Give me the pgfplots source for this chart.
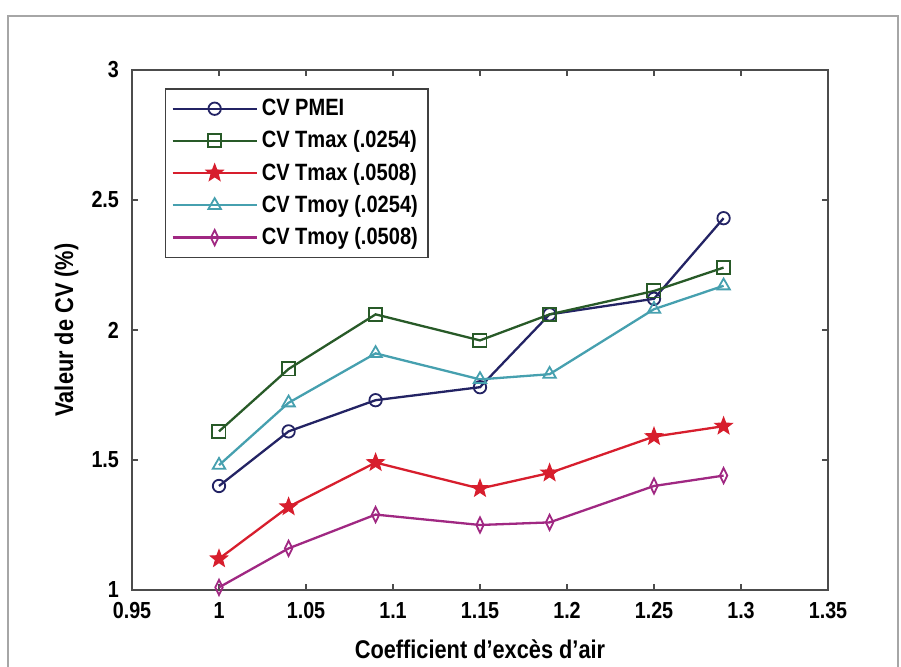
\documentclass[border=0pt]{standalone}
\usepackage{fontspec}
\setmainfont{Liberation Sans}[FakeStretch=0.85]
\usepackage{pgfplots}
\pgfplotsset{compat=1.18}
\definecolor{cPMEI}{RGB}{35,35,100}
\definecolor{cTmaxA}{RGB}{40,90,40}
\definecolor{cTmaxB}{RGB}{215,30,45}
\definecolor{cTmoyA}{RGB}{70,160,175}
\definecolor{cTmoyB}{RGB}{160,40,130}
\pgfdeclareplotmark{pentagram}{%
  \pgfpathmoveto{\pgfpointpolar{90}{\pgfplotmarksize}}%
  \pgfpathlineto{\pgfpointpolar{126}{0.42\pgfplotmarksize}}%
  \pgfpathlineto{\pgfpointpolar{162}{\pgfplotmarksize}}%
  \pgfpathlineto{\pgfpointpolar{198}{0.42\pgfplotmarksize}}%
  \pgfpathlineto{\pgfpointpolar{234}{\pgfplotmarksize}}%
  \pgfpathlineto{\pgfpointpolar{270}{0.42\pgfplotmarksize}}%
  \pgfpathlineto{\pgfpointpolar{306}{\pgfplotmarksize}}%
  \pgfpathlineto{\pgfpointpolar{342}{0.42\pgfplotmarksize}}%
  \pgfpathlineto{\pgfpointpolar{18}{\pgfplotmarksize}}%
  \pgfpathlineto{\pgfpointpolar{54}{0.42\pgfplotmarksize}}%
  \pgfpathclose
  \pgfusepathqfillstroke
}
\begin{document}
\begin{tikzpicture}
\useasboundingbox (0,0) rectangle (450.5pt,333.5pt);
\draw[black!35, line width=1.2pt] (4pt,0) -- (4pt,325.5pt) -- (449pt,325.5pt) -- (449pt,0);
\begin{axis}[
  at={(66pt,38.5pt)}, anchor=south west,
  width=348pt, height=260pt, scale only axis,
  xmin=0.95, xmax=1.35, ymin=1, ymax=3,
  xtick={0.95,1,1.05,1.1,1.15,1.2,1.25,1.3,1.35},
  ytick={1,1.5,2,2.5,3},
  /pgf/number format/assume math mode=true,
  tick align=inside, major tick length=3pt,
  axis line style={black!70, line width=0.9pt},
  tick style={black!70, line width=0.8pt},
  tick label style={font=\fontsize{11.6}{13}\selectfont\bfseries},
  xticklabel style={yshift=-2.6pt},
  yticklabel style={xshift=-3pt},
  label style={font=\fontsize{12.8}{14}\selectfont\bfseries},
  xlabel={Coefficient d'excès d'air},
  ylabel={Valeur de CV (\%)},
  xlabel style={at={(axis description cs:0.5,-0.114)}, anchor=center},
  ylabel style={at={(axis description cs:-0.094,0.5)}, anchor=center},
  legend style={at={(0.047,0.965)}, anchor=north west, draw=black!75, line width=0.8pt,
    font=\fontsize{11.8}{13}\selectfont\bfseries, row sep=2.1pt, inner sep=3pt},
  legend cell align=left,
  legend image code/.code={%
    \draw[mark repeat=2,mark phase=2,#1] plot coordinates {(0pt,0pt)(21pt,0pt)(42pt,0pt)};},
  every axis plot/.append style={line width=1.15pt},
]
\addplot[cPMEI, mark=o, mark size=3.1pt, mark options={line width=0.9pt}] coordinates {
(1,1.40) (1.04,1.61) (1.09,1.73) (1.15,1.78) (1.19,2.06) (1.25,2.12) (1.29,2.43)};
\addlegendentry{CV PMEI}
\addplot[cTmaxA, mark=square, mark size=3.3pt, mark options={line width=0.9pt}] coordinates {
(1,1.61) (1.04,1.85) (1.09,2.06) (1.15,1.96) (1.19,2.06) (1.25,2.15) (1.29,2.24)};
\addlegendentry{CV Tmax (.0254)}
\addplot[cTmaxB, mark=pentagram, mark size=4.4pt, mark options={fill=cTmaxB, line width=0.6pt}] coordinates {
(1,1.12) (1.04,1.32) (1.09,1.49) (1.15,1.39) (1.19,1.45) (1.25,1.59) (1.29,1.63)};
\addlegendentry{CV Tmax (.0508)}
\addplot[cTmoyA, mark=triangle, mark size=3.6pt, mark options={line width=0.9pt}] coordinates {
(1,1.48) (1.04,1.72) (1.09,1.91) (1.15,1.81) (1.19,1.83) (1.25,2.08) (1.29,2.17)};
\addlegendentry{CV Tmoy (.0254)}
\addplot[cTmoyB, mark=diamond, mark size=3.8pt, mark options={xscale=0.65, line width=0.9pt}] coordinates {
(1,1.01) (1.04,1.16) (1.09,1.29) (1.15,1.25) (1.19,1.26) (1.25,1.40) (1.29,1.44)};
\addlegendentry{CV Tmoy (.0508)}
\end{axis}
\end{tikzpicture}
\end{document}
